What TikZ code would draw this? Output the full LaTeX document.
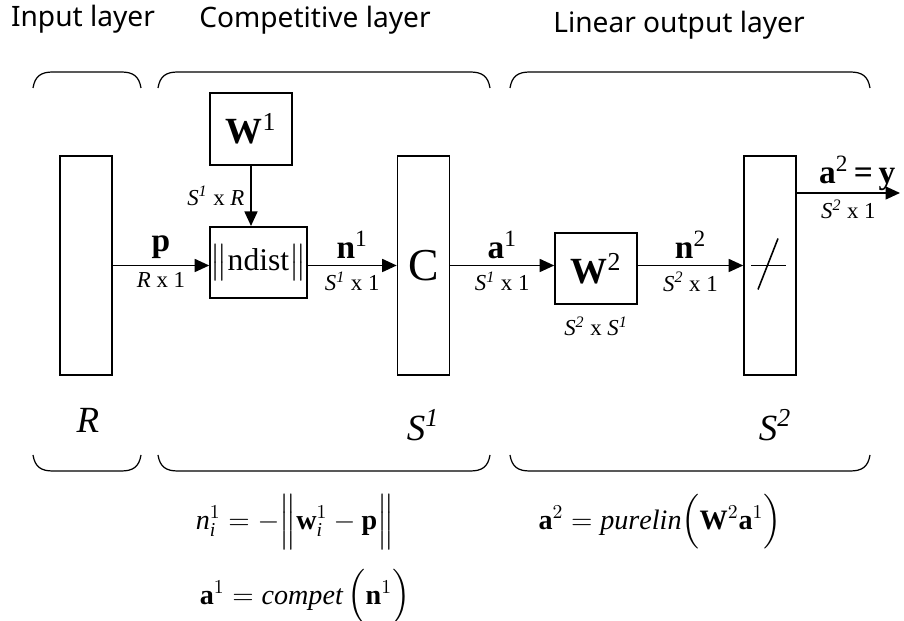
\documentclass[tikz,border=0pt]{standalone}
\usepackage{fix-cm}
\usepackage{amsmath}
\usepackage{fontspec}
\setmainfont{Liberation Serif}
\newfontfamily\titlefont{Noto Sans}
\usetikzlibrary{arrows.meta,positioning}
\newcommand{\dimS}[1]{\textit{S\textsuperscript{#1}}}
\newcommand{\supr}[1]{\textsuperscript{\mdseries #1}}

\begin{document}
\begin{tikzpicture}[
        x=0.02cm, y=-0.02cm,
        line width=0.9pt,
        >={Triangle[length=0.29cm,width=0.26cm]},
        layer_box/.style={draw, minimum width=1.04cm, minimum height=4.38cm, inner sep=0pt},
        weight_box/.style={draw, minimum width=1.64cm, minimum height=1.43cm, inner sep=0pt},
        title_text/.style={font=\titlefont\fontsize{16}{18}\selectfont},
        vec_label/.style={font=\fontsize{19}{21}\selectfont\bfseries},
        dim_label/.style={font=\fontsize{13}{15}\selectfont},
        size_label/.style={font=\fontsize{21}{23}\selectfont\itshape},
        eq_text/.style={font=\fontsize{16}{18}\selectfont}
    ]
    \useasboundingbox (0,0) rectangle (904,621);

    % Nadpisy vrstev
    \node[title_text] (t_in) at (83,19) {Input layer};
    \node[title_text] (t_comp) at (315,20) {Competitive layer};
    \node[title_text] (t_lin) at (679,25) {Linear output layer};

    % Zavorky nahore a dole
    \foreach \xa/\xb in {33/141, 158/490, 510/870} {
        \draw[line width=0.7pt] (\xa,88) .. controls (\xa+2,76) and (\xa+8,72) .. (\xa+20,72)
            -- (\xb-20,72) .. controls (\xb-8,72) and (\xb-2,76) .. (\xb,88);
        \draw[line width=0.7pt] (\xa,455) .. controls (\xa+2,467) and (\xa+8,471) .. (\xa+20,471)
            -- (\xb-20,471) .. controls (\xb-8,471) and (\xb-2,467) .. (\xb,455);
    }

    % Sloupce vrstev
    \node[layer_box] (in_col) at (86,265.5) {};
    \node[layer_box, font=\fontsize{26}{28}\selectfont] (comp_col) at (423.5,265.5) {C};
    \node[layer_box] (lin_col) at (770,265.5) {};
    \draw ([xshift=-0.38cm]lin_col.center) -- ([xshift=0.32cm]lin_col.center);
    \draw ([shift={(-12,24)}]lin_col.center) -- ([shift={(8,-27)}]lin_col.center);

    % Vahy a vzdalenost
    \node[weight_box, font=\fontsize{21}{23}\selectfont] (w1) at (251,129) {\textbf{W}\textsuperscript{1}};
    \node[weight_box, minimum width=1.94cm, font=\fontsize{18}{20}\selectfont] (ndist) at (258.5,262.5) {$\big\|$ndist$\big\|$};
    \node[weight_box, font=\fontsize{21}{23}\selectfont] (w2) at (596,268.5) {\textbf{W}\textsuperscript{2}};
    \node[dim_label, below=3pt of w2] (w2_dim) {\dimS{2} x \dimS{1}};

    % Spoje
    \draw[->] (w1.south) -- (w1.south |- ndist.north)
        node[midway, left, dim_label] {\dimS{1} x \textit{R}};
    \draw[->] (in_col.east) -- (in_col.east -| ndist.west)
        node[midway, above, vec_label] {p}
        node[midway, below, dim_label] {\textit{R} x 1};
    \draw[->] (ndist.east |- comp_col.west) -- (comp_col.west)
        node[midway, above, vec_label] {n\supr{1}}
        node[midway, below, dim_label] {\dimS{1} x 1};
    \draw[->] (comp_col.east) -- (comp_col.east -| w2.west)
        node[midway, above, vec_label] {a\supr{1}}
        node[midway, below, dim_label] {\dimS{1} x 1};
    \draw[->] (w2.east |- lin_col.west) -- (lin_col.west)
        node[midway, above, vec_label] {n\supr{2}}
        node[midway, below, dim_label] {\dimS{2} x 1};
    \coordinate (y_out) at (900,193);
    \draw[->] (lin_col.east |- y_out) -- (y_out)
        node[midway, above, vec_label, xshift=5pt, inner sep=1pt] {a\supr{2}\,=\,y}
        node[midway, below, dim_label] {\dimS{2} x 1};

    % Pocty neuronu
    \node[size_label] (r_size) at (88,420) {R};
    \node[size_label] (s1_size) at (423,425) {S\textsuperscript{1}};
    \node[size_label] (s2_size) at (775,425) {S\textsuperscript{2}};

    % Rovnice
    \node[eq_text] (eq_n) at (295,522) {$\mathit{n}^{1}_{\mathit{i}} = -\Bigl\|\mathbf{w}^{1}_{\mathit{i}} - \mathbf{p}\Bigr\|$};
    \node[eq_text] (eq_a2) at (660,522) {$\mathbf{a}^{2} = \mathit{purelin}\Bigl(\mathbf{W}^{2}\mathbf{a}^{1}\Bigr)$};
    \node[eq_text] (eq_a1) at (305,597) {$\mathbf{a}^{1} = \mathit{compet}\,\Bigl(\mathbf{n}^{1}\Bigr)$};
\end{tikzpicture}
\end{document}
